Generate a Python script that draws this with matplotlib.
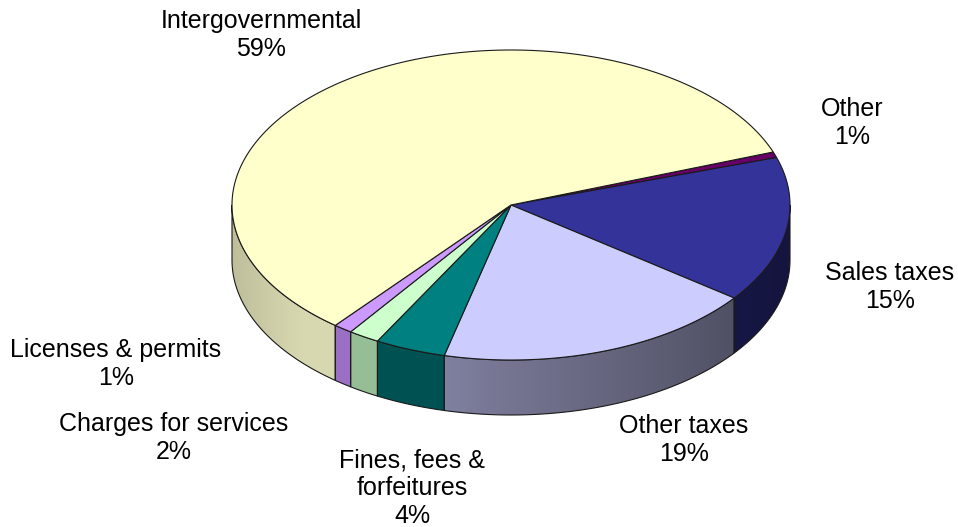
import numpy as np
import matplotlib
matplotlib.use("Agg")
import matplotlib.pyplot as plt
from matplotlib.patches import Polygon

plt.rcParams["font.family"] = ["Liberation Sans", "DejaVu Sans"]

# revenue shares, in the clockwise order they sit on the pie
categories = ["Other", "Sales taxes", "Other taxes", "Fines, fees &\nforfeitures",
              "Charges for services", "Licenses & permits", "Intergovernmental"]
shares = [0.6, 15.2, 18.6, 4.1, 1.8, 1.1, 58.6]

top_colors  = ["#660066", "#333399", "#CCCCFF", "#008080", "#CCFFCC", "#CC99FF", "#FFFFCC"]
side_colors = ["#4D004D", "#24246E", "#8080A0", "#005252", "#96BE96", "#9A70C4", "#D8D8B0"]
label_pos   = [(852, 123), (890, 287), (684, 440), (412, 488), (174, 438), (116, 364), (261, 35)]

# pie geometry in pixel units
CX, CY = 511, 205
RX, RY = 279, 155
DEPTH  = 55
START  = 20.0
EDGE   = "#1a1a1a"

W, H = 958, 527
fig = plt.figure(figsize=(W / 100, H / 100), dpi=100)
ax = fig.add_axes([0, 0, 1, 1])
ax.set_axis_off()


def rim(t, dy=0.0):
    r = np.radians(t)
    return CX + RX * np.cos(r), CY - RY * np.sin(r) + dy


def shade(c):
    # darker toward the right, a touch darker at the far left
    return 1 - 0.35 * np.clip(c + 0.25, 0, None) - 0.48 * np.clip(-c - 0.75, 0, None)


total = sum(shares)
bounds = START - 360 * np.concatenate([[0], np.cumsum(shares)]) / total

# side walls (front half only)
for i in range(len(shares)):
    hi, lo = bounds[i], bounds[i + 1]
    for k in (0, -360, 360):
        a = max(lo, -180 + k)
        b = min(hi, 0 + k)
        if b <= a:
            continue
        t = np.linspace(b, a, 80)
        xt, yt = rim(t)
        xb, yb = rim(t[::-1], DEPTH)
        pts = np.column_stack([np.concatenate([xt, xb]), np.concatenate([yt, yb])])
        poly = Polygon(pts, closed=True, facecolor="none", edgecolor="none")
        ax.add_patch(poly)
        x0, x1 = pts[:, 0].min(), pts[:, 0].max()
        xs = np.linspace(x0, x1, 200)
        base = np.array(matplotlib.colors.to_rgb(side_colors[i]))
        f = shade((xs - CX) / RX)
        img = np.clip(base[None, None, :] * f[None, :, None], 0, 1)
        im = ax.imshow(img, extent=(x0, x1, pts[:, 1].max(), pts[:, 1].min()),
                       aspect="auto", interpolation="bilinear", zorder=1)
        im.set_clip_path(poly)
        ax.add_patch(Polygon(pts, closed=True, facecolor="none",
                             edgecolor=EDGE, linewidth=0.8, zorder=2))

# top faces
for i in range(len(shares)):
    hi, lo = bounds[i], bounds[i + 1]
    n = max(4, int((hi - lo) * 2))
    t = np.linspace(hi, lo, n)
    xt, yt = rim(t)
    pts = np.column_stack([np.concatenate([[CX], xt]), np.concatenate([[CY], yt])])
    ax.add_patch(Polygon(pts, closed=True, facecolor=top_colors[i],
                         edgecolor=EDGE, linewidth=0.8, zorder=3))

for name, v, (lx, ly) in zip(categories, shares, label_pos):
    ax.text(lx, ly, f"{name}\n{v:.0f}%", ha="center", va="center",
            multialignment="center", fontsize=18, color="black",
            linespacing=1.2, zorder=5)

ax.set_xlim(0, W)
ax.set_ylim(H, 0)

plt.savefig("out.png", dpi=100, facecolor="white")
plt.close()
